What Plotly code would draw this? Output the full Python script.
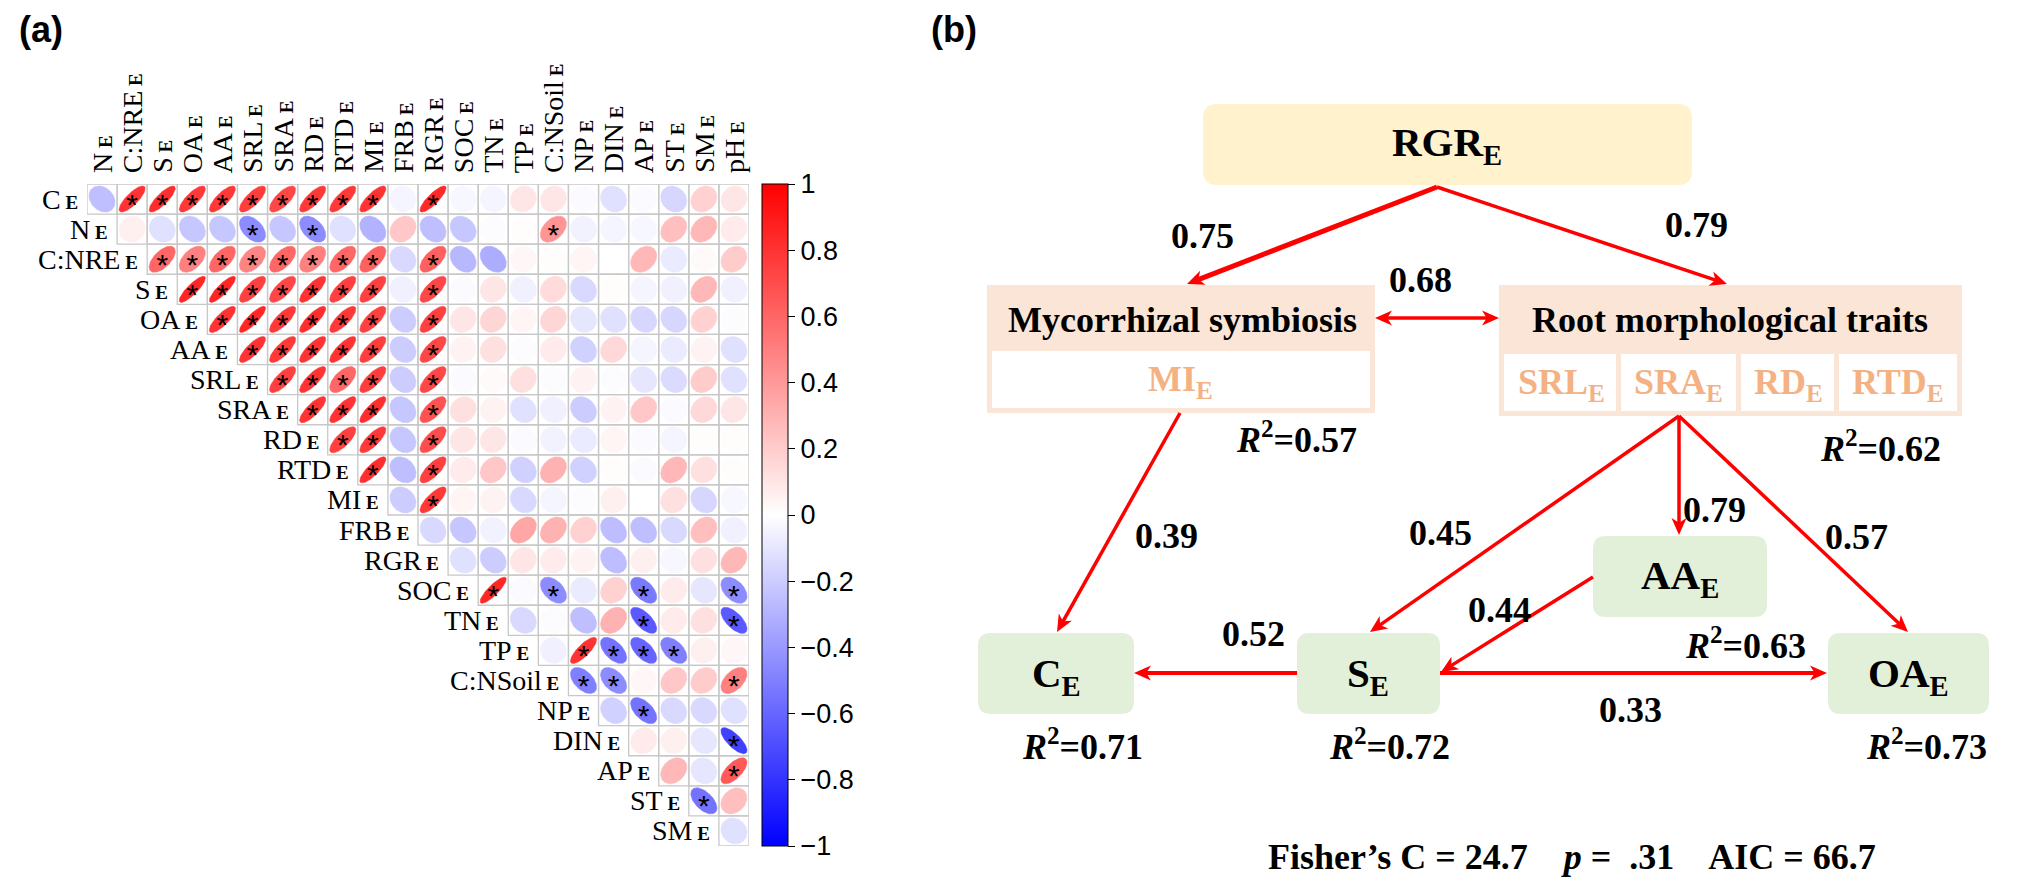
import numpy as np
import plotly.graph_objects as go

W, H = 2029, 892

# ---------------- DATA: correlation matrix (panel a) ----------------
row_labels = ["C", "N", "C:NRE", "S", "OA", "AA", "SRL", "SRA", "RD", "RTD", "MI",
              "FRB", "RGR", "SOC", "TN", "TP", "C:NSoil", "NP", "DIN", "AP", "ST", "SM"]
col_labels = ["N", "C:NRE", "S", "OA", "AA", "SRL", "SRA", "RD", "RTD", "MI", "FRB",
              "RGR", "SOC", "TN", "TP", "C:NSoil", "NP", "DIN", "AP", "ST", "SM", "pH"]

# each row starts at the column with the same index as the row
r_C = [-0.25, 0.80, 0.82, 0.78, 0.78, 0.76, 0.72, 0.78, 0.78, 0.80, -0.04, 0.84, -0.03, -0.04, 0.10, 0.10, -0.02, -0.12, -0.02, -0.16, 0.18, 0.10]
r_N = [0.06, -0.12, -0.22, -0.22, -0.45, -0.22, -0.45, -0.12, -0.30, 0.22, -0.25, -0.22, -0.01, 0.01, 0.42, -0.05, -0.04, -0.03, 0.25, 0.28, 0.08]
r_CNRE = [0.60, 0.50, 0.60, 0.48, 0.60, 0.50, 0.60, 0.62, -0.15, 0.62, -0.28, -0.32, 0.03, 0.01, 0.04, 0.00, 0.28, -0.08, 0.02, 0.20]
r_S = [0.85, 0.85, 0.75, 0.72, 0.80, 0.75, 0.75, -0.06, 0.72, -0.02, 0.10, -0.06, 0.14, -0.15, 0.01, -0.04, -0.06, 0.28, -0.06]
r_OA = [0.80, 0.85, 0.78, 0.82, 0.78, 0.75, -0.20, 0.75, 0.10, 0.16, 0.04, 0.16, -0.10, -0.12, -0.16, -0.16, 0.18, -0.01]
r_AA = [0.80, 0.78, 0.80, 0.80, 0.76, -0.20, 0.72, 0.05, 0.12, -0.01, 0.08, -0.18, 0.15, -0.04, -0.08, 0.05, -0.12]
r_SRL = [0.75, 0.80, 0.60, 0.76, -0.20, 0.72, -0.02, 0.02, 0.12, -0.01, 0.05, -0.01, -0.10, -0.14, 0.20, -0.12]
r_SRA = [0.80, 0.80, 0.82, -0.22, 0.68, 0.12, 0.05, -0.12, -0.06, -0.20, 0.05, 0.22, -0.02, 0.15, 0.10]
r_RD = [0.75, 0.78, -0.22, 0.70, 0.10, 0.10, -0.02, -0.05, -0.08, 0.04, -0.02, -0.04, 0.01, 0.01]
r_RTD = [0.82, -0.25, 0.75, 0.08, 0.22, -0.18, 0.30, -0.18, 0.01, -0.02, 0.28, 0.12, 0.01]
r_MI = [-0.20, 0.78, 0.04, 0.05, -0.15, -0.04, -0.01, 0.06, 0.00, 0.12, -0.16, -0.03]
r_FRB = [-0.15, -0.22, -0.05, 0.35, 0.30, 0.18, -0.26, -0.25, -0.15, 0.25, -0.06]
r_RGR = [-0.12, -0.20, 0.10, 0.08, 0.05, -0.26, 0.06, -0.03, 0.12, 0.28]
r_SOC = [0.85, -0.02, -0.45, -0.08, 0.18, -0.52, 0.08, -0.10, -0.45]
r_TN = [-0.15, -0.01, -0.25, 0.30, -0.65, 0.08, 0.12, -0.65]
r_TP = [-0.06, 0.80, -0.55, -0.60, -0.50, 0.06, 0.03]
r_CNSoil = [-0.50, -0.45, 0.03, 0.22, 0.20, 0.50]
r_NP = [-0.18, -0.55, -0.15, -0.15, -0.12]
r_DIN = [0.08, 0.06, -0.10, -0.75]
r_AP = [0.28, -0.10, 0.65]
r_ST = [-0.55, 0.25]
r_SM = [-0.12]
corr_rows = [r_C, r_N, r_CNRE, r_S, r_OA, r_AA, r_SRL, r_SRA, r_RD, r_RTD, r_MI,
             r_FRB, r_RGR, r_SOC, r_TN, r_TP, r_CNSoil, r_NP, r_DIN, r_AP, r_ST, r_SM]

# significant correlations (marked with *), by column name
sig_C = ["C:NRE", "S", "OA", "AA", "SRL", "SRA", "RD", "RTD", "MI", "RGR"]
sig_N = ["SRL", "RD", "C:NSoil"]
sig_CNRE = ["S", "OA", "AA", "SRL", "SRA", "RD", "RTD", "MI", "RGR"]
sig_S = ["OA", "AA", "SRL", "SRA", "RD", "RTD", "MI", "RGR"]
sig_OA = ["AA", "SRL", "SRA", "RD", "RTD", "MI", "RGR"]
sig_AA = ["SRL", "SRA", "RD", "RTD", "MI", "RGR"]
sig_SRL = ["SRA", "RD", "RTD", "MI", "RGR"]
sig_SRA = ["RD", "RTD", "MI", "RGR"]
sig_RD = ["RTD", "MI", "RGR"]
sig_RTD = ["MI", "RGR"]
sig_MI = ["RGR"]
sig_FRB = []
sig_RGR = []
sig_SOC = ["TN", "C:NSoil", "AP", "pH"]
sig_TN = ["AP", "pH"]
sig_TP = ["NP", "DIN", "AP", "ST"]
sig_CNSoil = ["NP", "DIN", "pH"]
sig_NP = ["AP"]
sig_DIN = ["pH"]
sig_AP = ["pH"]
sig_ST = ["SM"]
sig_SM = []
sig_rows = [sig_C, sig_N, sig_CNRE, sig_S, sig_OA, sig_AA, sig_SRL, sig_SRA, sig_RD, sig_RTD, sig_MI,
            sig_FRB, sig_RGR, sig_SOC, sig_TN, sig_TP, sig_CNSoil, sig_NP, sig_DIN, sig_AP, sig_ST, sig_SM]

cbar_ticks = [1, 0.8, 0.6, 0.4, 0.2, 0, -0.2, -0.4, -0.6, -0.8, -1]

# ---------------- DATA: path model (panel b) ----------------
path_from = ["RGR", "RGR", "Myco", "MI", "S", "SRA", "SRA", "SRA", "AA", "S"]
path_to = ["Myco", "Root", "Root", "C", "C", "S", "AA", "OA", "S", "OA"]
path_coef = [0.75, 0.79, 0.68, 0.39, 0.52, 0.45, 0.79, 0.57, 0.44, 0.33]
r2_nodes = ["Myco", "Root", "C", "S", "AA", "OA"]
r2_values = [0.57, 0.62, 0.71, 0.72, 0.63, 0.73]
fisher_c = 24.7
p_value = 0.31
aic = 66.7

# ---------------- styling / layout helpers ----------------
SERIF = "Liberation Serif, Times New Roman, serif"
SANS = "Liberation Sans, Arial, sans-serif"
RED = "#FF0000"
PEACH = "#FBE5D6"
PEACH_TXT = "#F4B183"
GREEN = "#E2F0D9"
YELLOW = "#FFF2CC"

# matrix placement in pixels
MX0, MX1, MY0, MY1 = 87, 749, 184, 846
n = len(col_labels)


def r_color(r):
    if r >= 0:
        v = int(round(255 * (1 - r)))
        return f"rgb(255,{v},{v})"
    v = int(round(255 * (1 + r)))
    return f"rgb({v},{v},255)"


def var_label(name, sub_size):
    return f"{name}<span style='font-size:{sub_size}px'><b> E</b></span>"


fig = go.Figure()

# grid
gx, gy = [], []
t = np.linspace(0, 2 * np.pi, 90)
for i, row in enumerate(corr_rows):
    for k, r in enumerate(row):
        j = i + k
        gx += [j - 0.5, j + 0.5, j + 0.5, j - 0.5, j - 0.5, None]
        gy += [i - 0.5, i - 0.5, i + 0.5, i + 0.5, i - 0.5, None]
fig.add_trace(go.Scatter(x=gx, y=gy, mode="lines", line=dict(color="#C8C8C8", width=1.3),
                         hoverinfo="skip", showlegend=False, xaxis="x", yaxis="y"))

# ellipses
for i, row in enumerate(corr_rows):
    for k, r in enumerate(row):
        j = i + k
        a = np.arccos(np.clip(r, -0.999, 0.999))
        ex = np.cos(t + a / 2) / 2 * 0.87
        ey = np.cos(t - a / 2) / 2 * 0.87
        c = r_color(r)
        fig.add_trace(go.Scatter(x=j + ex, y=i - ey, mode="lines", fill="toself",
                                 fillcolor=c, line=dict(color=c, width=0.5),
                                 hoverinfo="skip", showlegend=False, xaxis="x", yaxis="y"))

# stars
sx, sy = [], []
for i, sig in enumerate(sig_rows):
    for name in sig:
        sx.append(col_labels.index(name))
        sy.append(i + 0.27)
fig.add_trace(go.Scatter(x=sx, y=sy, mode="text", text=["*"] * len(sx),
                         textfont=dict(family=SANS, size=30, color="black"),
                         hoverinfo="skip", showlegend=False, xaxis="x", yaxis="y"))

# colorbar carrier
fig.add_trace(go.Scatter(
    x=[0], y=[0], mode="markers", xaxis="x", yaxis="y", hoverinfo="skip", showlegend=False,
    marker=dict(size=1, opacity=0, color=[0], cmin=-1, cmax=1,
                colorscale=[[0, "rgb(0,0,255)"], [0.5, "rgb(255,255,255)"], [1, "rgb(255,0,0)"]],
                showscale=True,
                colorbar=dict(x=762 / W, xanchor="left", y=1 - (MY0 + MY1) / 2 / H, yanchor="middle",
                              len=(MY1 - MY0) / H, lenmode="fraction", thickness=26,
                              thicknessmode="pixels", outlinewidth=1, outlinecolor="black",
                              ticks="outside", ticklen=7, tickwidth=1, tickcolor="black",
                              tickvals=cbar_ticks,
                              ticktext=[("−" if v < 0 else "") + (f"{abs(v):g}") for v in cbar_ticks],
                              tickfont=dict(family=SANS, size=27, color="black"),
                              xpad=0, ypad=0))))

annotations = []
# column labels
for j, name in enumerate(col_labels):
    annotations.append(dict(x=j, y=-0.5, xref="x", yref="y", text=var_label(name, 19),
                            textangle=-90, showarrow=False, xanchor="center", yanchor="bottom",
                            yshift=9, font=dict(family=SERIF, size=28, color="black")))
# row labels
for i, name in enumerate(row_labels):
    annotations.append(dict(x=i - 0.5, y=i, xref="x", yref="y", text=var_label(name, 19),
                            showarrow=False, xanchor="right", yanchor="middle", xshift=-7,
                            font=dict(family=SERIF, size=28, color="black")))

# panel tags
for tag, px in [("(a)", 17), ("(b)", 929)]:
    annotations.append(dict(x=px, y=29, xref="x2", yref="y2", text=f"<b>{tag}</b>", showarrow=False,
                            xanchor="left", yanchor="middle",
                            font=dict(family="Liberation Sans Narrow, " + SANS, size=36, color="black")))

# ---------------- panel b geometry ----------------
shapes = []


def rrect(x0, y0, x1, y1, rad, fill):
    p = (f"M {x0+rad},{y0} L {x1-rad},{y0} Q {x1},{y0} {x1},{y0+rad} L {x1},{y1-rad} "
         f"Q {x1},{y1} {x1-rad},{y1} L {x0+rad},{y1} Q {x0},{y1} {x0},{y1-rad} "
         f"L {x0},{y0+rad} Q {x0},{y0} {x0+rad},{y0} Z")
    shapes.append(dict(type="path", path=p, xref="x2", yref="y2", fillcolor=fill,
                       line=dict(width=0), layer="below"))


def rect(x0, y0, x1, y1, fill):
    shapes.append(dict(type="rect", x0=x0, y0=y0, x1=x1, y1=y1, xref="x2", yref="y2",
                       fillcolor=fill, line=dict(width=0), layer="below"))


def head(xt, yt, dx, dy, L=17, hw=7.5):
    nx, ny = -dy, dx
    bx, by = xt - dx * L, yt - dy * L
    mx, my = xt - dx * L * 0.72, yt - dy * L * 0.72
    p = (f"M {xt},{yt} L {bx+nx*hw},{by+ny*hw} L {mx},{my} L {bx-nx*hw},{by-ny*hw} Z")
    shapes.append(dict(type="path", path=p, xref="x2", yref="y2", fillcolor=RED,
                       line=dict(width=0)))


def arrow(x0, y0, x1, y1, w, both=False):
    d = np.hypot(x1 - x0, y1 - y0)
    dx, dy = (x1 - x0) / d, (y1 - y0) / d
    sx0, sy0 = (x0 + dx * 12, y0 + dy * 12) if both else (x0, y0)
    shapes.append(dict(type="line", x0=sx0, y0=sy0, x1=x1 - dx * 12, y1=y1 - dy * 12,
                       xref="x2", yref="y2", line=dict(color=RED, width=w)))
    head(x1, y1, dx, dy)
    if both:
        head(x0, y0, -dx, -dy)


# boxes
rrect(1203, 104, 1692, 185, 14, YELLOW)
rect(987, 285, 1375, 413, PEACH)
rect(992, 351, 1370, 408, "white")
rect(1499, 285, 1962, 416, PEACH)
for (a, b) in [(1504, 1616), (1621, 1736), (1741, 1834), (1839, 1957)]:
    rect(a, 354, b, 411, "white")
rrect(978, 633, 1134, 714, 13, GREEN)
rrect(1297, 633, 1440, 714, 13, GREEN)
rrect(1593, 536, 1767, 617, 13, GREEN)
rrect(1828, 633, 1989, 714, 13, GREEN)

# arrow geometry for each path (start, end, line width, label position)
edge_geom = [
    ((1437, 187), (1187, 284), 5.0, (1202, 236)),
    ((1437, 187), (1727, 284), 3.5, (1696, 225)),
    ((1375, 318), (1499, 318), 3.5, (1420, 280)),
    ((1180, 413), (1057, 632), 3.5, (1166, 536)),
    ((1297, 673), (1134, 673), 4.0, (1253, 634)),
    ((1679, 416), (1370, 632), 3.5, (1440, 533)),
    ((1679, 416), (1679, 535), 3.5, (1714, 510)),
    ((1679, 416), (1908, 632), 3.5, (1856, 537)),
    ((1593, 577), (1441, 672), 3.5, (1499, 610)),
    ((1440, 673), (1827, 673), 4.0, (1630, 710)),
]
for (frm, to, coef, (p0, p1, w, lab)) in zip(path_from, path_to, path_coef, edge_geom):
    arrow(p0[0], p0[1], p1[0], p1[1], w, both=(frm == "Myco" and to == "Root"))
    annotations.append(dict(x=lab[0], y=lab[1], xref="x2", yref="y2", text=f"<b>{coef:.2f}</b>",
                            showarrow=False, xanchor="center", yanchor="middle",
                            font=dict(family=SERIF, size=36, color="black")))

# node texts
node_text = [
    ("RGR<sub>E</sub>", 1447, 145, 41, "black"),
    ("Mycorrhizal symbiosis", 1182, 320, 36, "black"),
    ("MI<sub>E</sub>", 1180, 381, 36, PEACH_TXT),
    ("Root morphological traits", 1730, 320, 36, "black"),
    ("SRL<sub>E</sub>", 1561, 384, 36, PEACH_TXT),
    ("SRA<sub>E</sub>", 1678, 384, 36, PEACH_TXT),
    ("RD<sub>E</sub>", 1788, 384, 36, PEACH_TXT),
    ("RTD<sub>E</sub>", 1898, 384, 36, PEACH_TXT),
    ("C<sub>E</sub>", 1056, 676, 41, "black"),
    ("S<sub>E</sub>", 1368, 676, 41, "black"),
    ("AA<sub>E</sub>", 1680, 578, 41, "black"),
    ("OA<sub>E</sub>", 1908, 676, 41, "black"),
]
for txt, x, y, s, c in node_text:
    annotations.append(dict(x=x, y=y, xref="x2", yref="y2", text=f"<b>{txt}</b>", showarrow=False,
                            xanchor="center", yanchor="middle",
                            font=dict(family=SERIF, size=s, color=c)))

r2_pos = {"Myco": (1296, 437), "Root": (1880, 446), "C": (1082, 744),
          "S": (1389, 744), "AA": (1745, 643), "OA": (1926, 744)}
for node, val in zip(r2_nodes, r2_values):
    x, y = r2_pos[node]
    annotations.append(dict(x=x, y=y, xref="x2", yref="y2",
                            text=f"<b><i>R</i><sup>2</sup>={val:.2f}</b>", showarrow=False,
                            xanchor="center", yanchor="middle",
                            font=dict(family=SERIF, size=36, color="black")))

p_str = f"{p_value:.2f}".lstrip("0")
nb = "\u00a0"
stats = (f"<b>Fisher’s C = {fisher_c}{nb*3} <i>p</i> ={nb*2}{p_str}{nb*3} AIC = {aic}</b>")
annotations.append(dict(x=1572, y=857, xref="x2", yref="y2", text=stats, showarrow=False,
                        xanchor="center", yanchor="middle",
                        font=dict(family=SERIF, size=36, color="black")))

fig.update_layout(
    width=W, height=H, margin=dict(l=0, r=0, t=0, b=0),
    paper_bgcolor="white", plot_bgcolor="rgba(0,0,0,0)",
    xaxis=dict(domain=[MX0 / W, MX1 / W], range=[-0.5, n - 0.5], visible=False, fixedrange=True),
    yaxis=dict(domain=[1 - MY1 / H, 1 - MY0 / H], range=[n - 0.5, -0.5], visible=False, fixedrange=True),
    xaxis2=dict(domain=[0, 1], range=[0, W], visible=False, anchor="y2", fixedrange=True),
    yaxis2=dict(domain=[0, 1], range=[H, 0], visible=False, anchor="x2", fixedrange=True),
    shapes=shapes, annotations=annotations, showlegend=False,
)

fig.write_html("out.html", include_plotlyjs=True, full_html=True,
               config={"displayModeBar": False},
               post_script="document.body.style.margin='0';document.body.style.overflow='hidden';")
